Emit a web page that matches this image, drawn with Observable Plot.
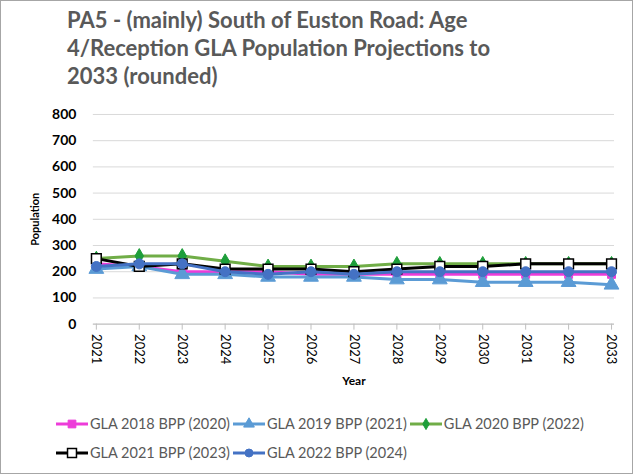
<!DOCTYPE html>
<html>
<head>
<meta charset="utf-8">
<script src="https://cdn.jsdelivr.net/npm/d3@7"></script>
<script src="https://cdn.jsdelivr.net/npm/@observablehq/plot@0.6"></script>
<style>
  html, body { margin: 0; padding: 0; background: #fff; }
  #frame { position: relative; width: 633px; height: 474px; box-sizing: border-box; border: 1px solid #a6a6a6; font-family: Lato, "Open Sans", sans-serif; overflow: hidden; }
  #title { position: absolute; left: 66px; top: 5px; width: 560px; font-size: 22px; font-weight: bold; line-height: 28px; color: #595959; white-space: nowrap; }
  #chart { position: absolute; left: -1px; top: 95px; }
  #legend { position: absolute; left: 54px; top: 408px; width: 570px; display: flex; flex-wrap: wrap; row-gap: 0; font-size: 14.5px; color: #595959; }
  .item { display: flex; align-items: center; height: 29px; margin-right: 2px; }
  .item svg { margin-right: 1px; }
</style>
</head>
<body>
<div id="frame">
  <div id="title">PA5 - (mainly) South of Euston Road: Age<br>4/Reception GLA Population Projections to<br>2033 (rounded)</div>
  <div id="chart"></div>
  <div id="legend"></div>
</div>
<script>
const years = [2021, 2022, 2023, 2024, 2025, 2026, 2027, 2028, 2029, 2030, 2031, 2032, 2033];
const seriesNames = ["GLA 2018 BPP (2020)", "GLA 2019 BPP (2021)", "GLA 2020 BPP (2022)", "GLA 2021 BPP (2023)", "GLA 2022 BPP (2024)"];
const gla2018 = [230, 220, 200, 200, 200, 190, 190, 190, 190, 190, 190, 190, 190];
const gla2019 = [210, 220, 190, 190, 180, 180, 180, 170, 170, 160, 160, 160, 150];
const gla2020 = [250, 260, 260, 240, 220, 220, 220, 230, 230, 230, 230, 230, 230];
const gla2021 = [250, 220, 230, 210, 210, 210, 200, 210, 220, 220, 230, 230, 230];
const gla2022 = [220, 230, 230, 200, 190, 200, 190, 200, 200, 200, 200, 200, 200];
const yTicks = [0, 100, 200, 300, 400, 500, 600, 700, 800];

const seriesValues = [gla2018, gla2019, gla2020, gla2021, gla2022];
const styles = [
  {line: "#ED3CD9", fill: "#ED3CD9", stroke: "#ED3CD9", symbol: "square", r: 4.5},
  {line: "#5B9BD5", fill: "#5B9BD5", stroke: "#5B9BD5", symbol: "triangle", r: 5.5},
  {line: "#70AD47", fill: "#1E9E3A", stroke: "#1E9E3A", symbol: "diamond", r: 4.5},
  {line: "#000000", fill: "#ffffff", stroke: "#000000", symbol: "square", r: 5.5},
  {line: "#4472C4", fill: "#4472C4", stroke: "#4472C4", symbol: "circle", r: 5}
];

const data = [];
seriesNames.forEach((name, i) => {
  years.forEach((yr, j) => data.push({series: name, year: yr, value: seriesValues[i][j]}));
});

const seriesMarks = [];
seriesNames.forEach((name, i) => {
  const s = styles[i];
  const d = data.filter(e => e.series === name);
  seriesMarks.push(Plot.line(d, {x: "year", y: "value", stroke: s.line, strokeWidth: 3}));
  seriesMarks.push(Plot.dot(d, {x: "year", y: "value", symbol: s.symbol, r: s.r, fill: s.fill, stroke: s.stroke, strokeWidth: i === 3 ? 1.5 : 1}));
});

const chart = Plot.plot({
  width: 633,
  height: 316,
  marginTop: 18,
  marginBottom: 88,
  marginLeft: 93,
  marginRight: 18,
  style: {fontFamily: "Lato, 'Open Sans', sans-serif", color: "#000", background: "transparent"},
  x: {type: "point", domain: years, padding: 0},
  y: {domain: [0, 800]},
  marks: [
    Plot.gridY(yTicks, {stroke: "#d9d9d9", strokeOpacity: 1, strokeWidth: 1}),
    Plot.ruleY([0], {stroke: "#bfbfbf"}),
    Plot.axisY({ticks: yTicks, tickSize: 0, tickPadding: 17, fontSize: 14, fontWeight: "bold", label: "Population", labelAnchor: "center", labelOffset: 62, labelArrow: "none"}),
    Plot.axisX({ticks: years, tickFormat: d => String(d), tickRotate: 90, tickSize: 6, tickPadding: 4, fontSize: 13, stroke: "#bfbfbf", label: "Year", labelAnchor: "center", labelOffset: 61, labelArrow: "none"}),
    ...seriesMarks
  ]
});
document.getElementById("chart").appendChild(chart);

d3.select(chart).selectAll('g[aria-label="y-axis label"] text, g[aria-label="x-axis label"] text')
  .style("font-weight", "bold").style("font-size", "12px").attr("fill", "#000");
d3.select(chart).selectAll('g[aria-label="y-axis label"] text').style("font-size", "11px");
d3.select(chart).selectAll('g[aria-label="x-axis tick label"] text').attr("fill", "#000");

// legend
const legend = d3.select("#legend");
seriesNames.forEach((name, i) => {
  const s = styles[i];
  const item = legend.append("div").attr("class", "item");
  const svg = item.append("svg").attr("width", 34).attr("height", 14);
  svg.append("line").attr("x1", 1).attr("x2", 33).attr("y1", 7).attr("y2", 7).attr("stroke", s.line).attr("stroke-width", 3);
  const sym = {square: d3.symbolSquare, triangle: d3.symbolTriangle, diamond: d3.symbolDiamond, circle: d3.symbolCircle}[s.symbol];
  const size = s.symbol === "circle" ? 50 : s.symbol === "diamond" ? 36 : s.symbol === "triangle" ? 50 : (i === 3 ? 80 : 60);
  svg.append("path").attr("d", d3.symbol(sym, size)()).attr("transform", "translate(17,7)")
    .attr("fill", s.fill).attr("stroke", s.stroke).attr("stroke-width", i === 3 ? 1.5 : 1);
  item.append("span").text(name);
  if (i === 2) legend.append("div").style("flex-basis", "100%").style("height", "0");
});
</script>
</body>
</html>
